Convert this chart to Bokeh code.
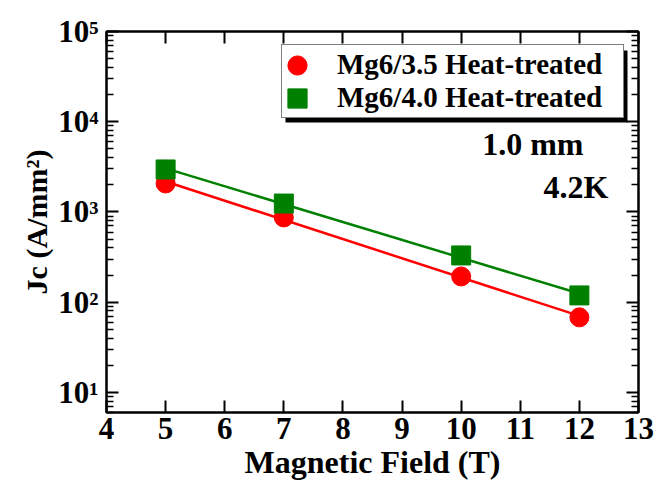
import numpy as np
from bokeh.plotting import figure
from bokeh.models import (Range1d, LinearAxis, LogAxis, FixedTicker, CustomJSTickFormatter,
                          Legend, LegendItem, Label, BoxAnnotation)
from bokeh.embed import file_html
from bokeh.resources import INLINE

# ---- data ----
field = [5, 7, 10, 12]                      # Magnetic field (T)
jc_mg6_35 = [2070, 870, 193, 68]            # Jc (A/mm^2), Mg6/3.5 heat-treated
jc_mg6_40 = [2960, 1240, 330, 119]          # Jc (A/mm^2), Mg6/4.0 heat-treated
series_labels = ["Mg6/3.5 Heat-treated", "Mg6/4.0 Heat-treated"]
x_ticks = [4, 5, 6, 7, 8, 9, 10, 11, 12, 13]
y_ticks = [10, 100, 1000, 10000, 100000]
y_minor = [m * 10 ** k for k in range(0, 5) for m in range(2, 10)]
note_size = "1.0 mm"
note_temp = "4.2K"

FONT = "Liberation Serif"
RED = "#ff0000"
GREEN = "#008000"

p = figure(width=666, height=485, y_axis_type="log",
           x_range=Range1d(4, 13), y_range=Range1d(6.0, 1e5),
           output_backend="svg", toolbar_location=None,
           min_border_left=106, min_border_right=28,
           min_border_top=31, min_border_bottom=73)
p.xgrid.visible = False
p.ygrid.visible = False
p.outline_line_color = "black"
p.outline_line_width = 2
p.background_fill_color = "white"
p.border_fill_color = "white"

xt = FixedTicker(ticks=x_ticks)
yt = FixedTicker(ticks=y_ticks, minor_ticks=y_minor)
sup_fmt = CustomJSTickFormatter(code="""
const sup = {"0":"\u2070","1":"\u00b9","2":"\u00b2","3":"\u00b3","4":"\u2074",
             "5":"\u2075","6":"\u2076","7":"\u2077","8":"\u2078","9":"\u2079"};
const e = Math.round(Math.log10(tick));
return "10" + String(e).split("").map(c => sup[c] || c).join("");
""")
blank_fmt = CustomJSTickFormatter(code="return '';")


def style(ax, minor=True):
    ax.axis_line_width = 2
    ax.axis_line_color = "black"
    ax.major_tick_line_width = 2
    ax.major_tick_line_color = "black"
    ax.major_tick_in = 12
    ax.major_tick_out = 0
    if minor:
        ax.minor_tick_line_width = 1.5
        ax.minor_tick_line_color = "black"
        ax.minor_tick_in = 7
        ax.minor_tick_out = 0
    else:
        ax.minor_tick_line_color = None
    ax.major_label_text_font = FONT
    ax.major_label_text_font_style = "bold"
    ax.major_label_text_font_size = "31px"
    ax.major_label_text_color = "black"
    ax.axis_label_text_font = FONT
    ax.axis_label_text_font_style = "bold"
    ax.axis_label_text_color = "black"


xa = p.xaxis[0]
xa.ticker = xt
style(xa, minor=False)
xa.major_label_standoff = 5
xa.axis_label = "Magnetic Field (T)"
xa.axis_label_text_font_size = "32px"
xa.axis_label_standoff = 2

ya = p.yaxis[0]
ya.ticker = yt
ya.formatter = sup_fmt
style(ya)
ya.major_label_standoff = 8
ya.axis_label = "Jc (A/mm\u00b2)"
ya.axis_label_text_font_size = "30px"
ya.axis_label_standoff = 2

top = LinearAxis(ticker=xt, formatter=blank_fmt)
style(top, minor=False)
top.major_label_standoff = 0
p.add_layout(top, "above")

right = LogAxis(ticker=yt, formatter=blank_fmt)
style(right)
right.major_label_standoff = 0
p.add_layout(right, "right")

# ---- fitted lines (exponential fit of the data) ----
xs = np.array(field, dtype=float)
xf = np.array([xs.min(), xs.max()])
fit35 = np.polyfit(xs, np.log10(jc_mg6_35), 1)
fit40 = np.polyfit(xs, np.log10(jc_mg6_40), 1)
p.line(xf, 10 ** np.polyval(fit35, xf), line_color=RED, line_width=2.5)
p.line(xf, 10 ** np.polyval(fit40, xf), line_color=GREEN, line_width=2.5)

# markers in screen-pixel size
r35 = p.ellipse(x=field, y=jc_mg6_35, width=19, height=19,
                width_units="screen", height_units="screen",
                fill_color=RED, line_color=RED)
r40 = p.rect(x=field, y=jc_mg6_40, width=19, height=19,
             width_units="screen", height_units="screen",
             fill_color=GREEN, line_color=GREEN)

# ---- legend shadow ----
def px_x(px):
    return 4 + (px - 106) / 59.11

def px_y(py):
    return 10 ** (5 - (py - 31) / 90.25)

shadow = BoxAnnotation(left=px_x(285), right=px_x(627), top=px_y(50), bottom=px_y(122),
                       fill_color="black", fill_alpha=1.0, line_color=None)
p.add_layout(shadow)

legend = Legend(items=[LegendItem(label=series_labels[0], renderers=[r35]),
                       LegendItem(label=series_labels[1], renderers=[r40])],
                location=(175, 294))
legend.padding = 3
legend.spacing = 0
legend.glyph_height = 24
legend.glyph_width = 24
legend.label_height = 24
legend.label_standoff = 28
legend.label_width = 283
legend.label_text_font = FONT
legend.label_text_font_style = "bold"
legend.label_text_font_size = "29px"
legend.label_text_color = "black"
legend.border_line_color = "black"
legend.border_line_width = 1.5
legend.background_fill_color = "white"
legend.background_fill_alpha = 1.0
legend.margin = 0
p.add_layout(legend, "center")

for txt, px_r, py_m in [(note_size, 583, 143.7), (note_temp, 608, 186.7)]:
    p.add_layout(Label(x=px_x(px_r), y=px_y(py_m), text=txt,
                       text_align="right", text_baseline="middle",
                       text_font=FONT, text_font_style="bold",
                       text_font_size="32px", text_color="black"))

open("out.html", "w").write(file_html(p, INLINE))
